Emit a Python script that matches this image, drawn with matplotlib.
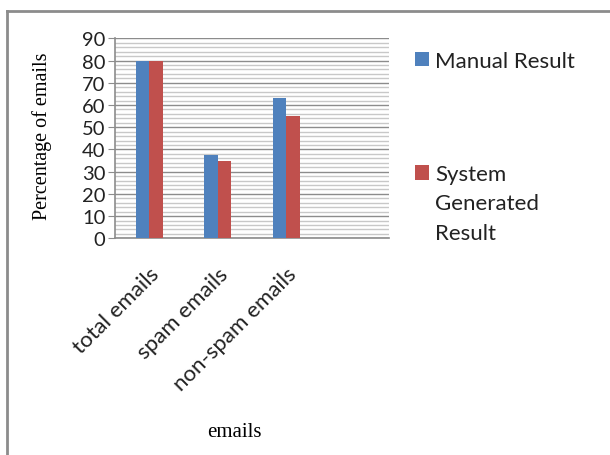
import numpy as np
import matplotlib
matplotlib.use("Agg")
from matplotlib import pyplot as plt
from matplotlib.lines import Line2D
from matplotlib.ticker import MultipleLocator

categories = ["total emails", "spam emails", "non-spam emails", ""]
manual = [80, 37.5, 63, 0]
system = [80, 35, 55, 0]
series_names = ["Manual Result", "System"]
extra_label_lines = ["Generated", "Result"]

BLUE = "#4F81BD"
RED = "#C0504D"
SANS = ["Lato", "DejaVu Sans"]
SERIF = ["Liberation Serif", "DejaVu Serif"]

fig = plt.figure(figsize=(6.1, 4.56), dpi=100)
ax = fig.add_axes([0.1885, 0.4752, 0.4492, 0.4386])

x = np.arange(len(categories))
w = 0.2
b1 = ax.bar(x[:3] - w / 2, manual[:3], w, color=BLUE, zorder=3)
b2 = ax.bar(x[:3] + w / 2, system[:3], w, color=RED, zorder=3)

ax.set_xlim(-0.5, 3.5)
ax.set_ylim(0, 90)
ax.yaxis.set_major_locator(MultipleLocator(10))
ax.yaxis.set_minor_locator(MultipleLocator(2))
ax.grid(which="major", axis="y", color="#8c8c8c", lw=1.0, zorder=0)
ax.grid(which="minor", axis="y", color="#c8c8c8", lw=1.0, zorder=0)

for s in ["top", "right"]:
    ax.spines[s].set_visible(False)
for s in ["left", "bottom"]:
    ax.spines[s].set_color("#8c8c8c")
    ax.spines[s].set_linewidth(1.2)

ax.tick_params(axis="y", which="major", length=5, color="#8c8c8c", labelsize=14.5, pad=2)
ax.tick_params(axis="y", which="minor", length=0)
ax.tick_params(axis="x", length=0, pad=18)
ax.set_xticks(x)
ax.set_xticklabels(categories, rotation=45, ha="right", rotation_mode="anchor",
                   fontsize=16, family=SANS, color="#222222")
for t in ax.get_yticklabels():
    t.set_family(SANS)
    t.set_color("#222222")

ax.set_ylabel("Percentage of emails", family=SERIF, fontsize=14.5)
ax.yaxis.set_label_coords(-0.23, 0.516)
fig.text(0.385, 0.052, "emails", family=SERIF, fontsize=15, ha="center", va="center")

leg = fig.legend([b1, b2], series_names, loc="upper left", bbox_to_anchor=(0.680, 0.886),
                 frameon=False, prop={"family": SANS, "size": 16},
                 borderpad=0, borderaxespad=0,
                 handlelength=0.63, handleheight=0.63, handletextpad=0.27,
                 labelspacing=4.2)
for t in leg.get_texts():
    t.set_color("#222222")

# continuation lines of the second legend label, aligned under "System"
fig.canvas.draw()
bb = leg.get_texts()[1].get_window_extent()
x0 = bb.x0 / fig.bbox.width
for i, line in enumerate(extra_label_lines):
    fig.text(x0, 1 - (210 + 30 * i) / 456, line, family=SANS, fontsize=16,
             color="#222222", ha="left", va="baseline")

# outer frame (left and top only visible)
fig.add_artist(Line2D([0.0115, 0.0115], [0.0, 0.974], transform=fig.transFigure,
                      color="#8c8c8c", lw=2))
fig.add_artist(Line2D([0.0115, 1.0], [0.974, 0.974], transform=fig.transFigure,
                      color="#8c8c8c", lw=2))

fig.savefig("out.png", dpi=100)
